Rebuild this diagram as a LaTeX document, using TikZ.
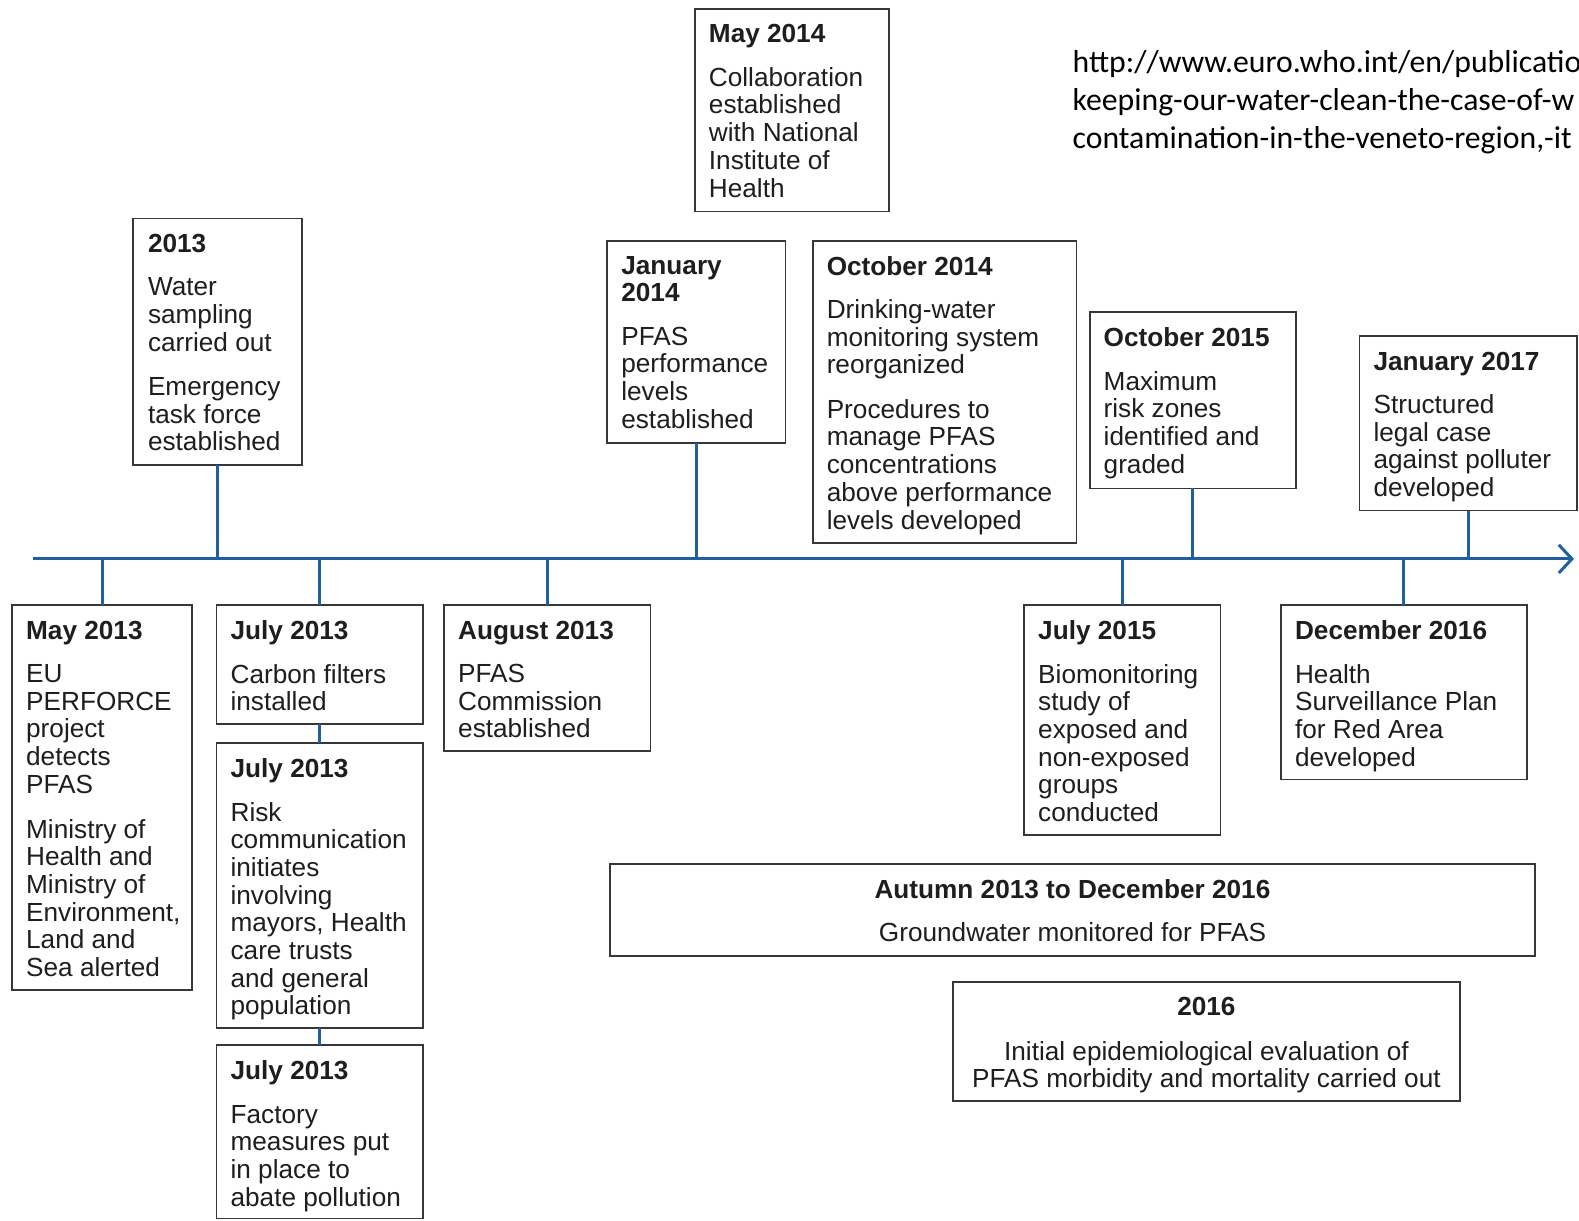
\documentclass[tikz,border=0pt]{standalone}
\usepackage{fontspec}
\setmainfont{Liberation Sans}
\newfontfamily\urlfont{Carlito}
\usetikzlibrary{arrows.meta,fit}
\definecolor{tlblue}{RGB}{31,96,158}
\definecolor{boxline}{RGB}{55,55,55}
\definecolor{txtc}{RGB}{30,30,30}
\begin{document}
\begin{tikzpicture}[x=1pt,y=-1pt,
  evbox/.style={draw=boxline, line width=1.8pt, inner sep=0pt, outer sep=0pt, fill=white},
  evtxt/.style={font=\fontsize{26}{27.5}\selectfont, text=txtc, align=left, inner sep=0pt, outer sep=0pt, anchor=north west},
  evtxtc/.style={evtxt, align=center, anchor=north},
  tline/.style={draw=tlblue, line width=3pt},
  conn/.style={draw=tlblue, line width=2.8pt},
  urltxt/.style={font=\urlfont\fontsize{31.5}{37.5}\selectfont, text=black, inner sep=0pt, anchor=base west}]

\useasboundingbox (0,0) rectangle (1568,1212);
\fill[white] (0,0) rectangle (1568,1212);
\clip (0,0) rectangle (1568,1212);

% URL
\node[urltxt] (url1) at (1065,72) {http://www.euro.who.int/en/publicatio};
\node[urltxt] (url2) at (1065,109.5) {keeping-our-water-clean-the-case-of-w};
\node[urltxt] (url3) at (1065,147) {contamination-in-the-veneto-region,-it};

% timeline
\coordinate (tlstart) at (33,555);
\coordinate (tlend) at (1563,555);
\draw[tline, -{Straight Barb[length=13pt,width=28pt]}] (tlstart) -- (tlend);

% boxes above
\node[evbox, fit={(690,9) (883,210)}] (may14) {};
\node[evbox, fit={(132,217) (300,462)}] (y2013) {};
\node[evbox, fit={(603,239) (780,440)}] (jan14) {};
\node[evbox, fit={(807,239) (1069,539)}] (oct14) {};
\node[evbox, fit={(1082,310) (1287,485)}] (oct15) {};
\node[evbox, fit={(1350,334) (1566,507)}] (jan17) {};

% boxes below
\node[evbox, fit={(12,601) (191,983)}] (may13) {};
\node[evbox, fit={(215,601) (420,719)}] (jul13a) {};
\node[evbox, fit={(215,738) (420,1021)}] (jul13b) {};
\node[evbox, fit={(215,1038) (420,1210)}] (jul13c) {};
\node[evbox, fit={(441,601) (646,746)}] (aug13) {};
\node[evbox, fit={(1017,601) (1212,829)}] (jul15) {};
\node[evbox, fit={(1272,601) (1516,774)}] (dec16) {};
\node[evbox, fit={(606,858) (1524,949)}] (aut) {};
\node[evbox, fit={(946,975) (1450,1093)}] (y2016) {};

% connectors
\draw[conn] (y2013.south) -- (y2013.south |- tlstart);
\draw[conn] (jan14.south) -- (jan14.south |- tlstart);
\draw[conn] (oct15.south) -- (oct15.south |- tlstart);
\draw[conn] (jan17.south) -- (jan17.south |- tlstart);
\draw[conn] (may13.north) -- (may13.north |- tlstart);
\draw[conn] (jul13a.north) -- (jul13a.north |- tlstart);
\draw[conn] (aug13.north) -- (aug13.north |- tlstart);
\draw[conn] (jul15.north) -- (jul15.north |- tlstart);
\draw[conn] (dec16.north) -- (dec16.north |- tlstart);
\draw[conn] (jul13a.south) -- (jul13b.north);
\draw[conn] (jul13b.south) -- (jul13c.north);

% texts
\node[evtxt] (may14t) at ([shift={(14,15.5)}]may14.north west)
  {\textbf{May 2014}\\[15.5pt]Collaboration\\established\\with National\\Institute of\\Health};
\node[evtxt] (y2013t) at ([shift={(15,15.5)}]y2013.north west)
  {\textbf{2013}\\[15.5pt]Water\\sampling\\carried out\\[16.5pt]Emergency\\task force\\established};
\node[evtxt] (jan14t) at ([shift={(14,15.5)}]jan14.north west)
  {\textbf{January}\\\textbf{2014}\\[15.5pt]PFAS\\performance\\levels\\established};
\node[evtxt] (oct14t) at ([shift={(14,15.5)}]oct14.north west)
  {\textbf{October 2014}\\[15.5pt]Drinking-water\\monitoring system\\reorganized\\[16.5pt]Procedures to\\manage PFAS\\concentrations\\above performance\\levels developed};
\node[evtxt] (oct15t) at ([shift={(14,15.5)}]oct15.north west)
  {\textbf{October 2015}\\[15.5pt]Maximum\\risk zones\\identified and\\graded};
\node[evtxt] (jan17t) at ([shift={(14,15.5)}]jan17.north west)
  {\textbf{January 2017}\\[15.5pt]Structured\\legal case\\against polluter\\developed};

\node[evtxt] (may13t) at ([shift={(14,15.5)}]may13.north west)
  {\textbf{May 2013}\\[15.5pt]EU\\PERFORCE\\project\\detects\\PFAS\\[17pt]Ministry of\\Health and\\Ministry of\\Environment,\\Land and\\Sea alerted};
\node[evtxt] (jul13at) at ([shift={(14,15.5)}]jul13a.north west)
  {\textbf{July 2013}\\[15.5pt]Carbon filters\\installed};
\node[evtxt] (jul13bt) at ([shift={(14,15.5)}]jul13b.north west)
  {\textbf{July 2013}\\[15.5pt]Risk\\communication\\initiates\\involving\\mayors, Health\\care trusts\\and general\\population};
\node[evtxt] (jul13ct) at ([shift={(14,15.5)}]jul13c.north west)
  {\textbf{July 2013}\\[15.5pt]Factory\\measures put\\in place to\\abate pollution};
\node[evtxt] (aug13t) at ([shift={(14,15.5)}]aug13.north west)
  {\textbf{August 2013}\\[15.5pt]PFAS\\Commission\\established};
\node[evtxt] (jul15t) at ([shift={(14,15.5)}]jul15.north west)
  {\textbf{July 2015}\\[15.5pt]Biomonitoring\\study of\\exposed and\\non-exposed\\groups\\conducted};
\node[evtxt] (dec16t) at ([shift={(14,15.5)}]dec16.north west)
  {\textbf{December 2016}\\[15.5pt]Health\\Surveillance Plan\\for Red Area\\developed};
\node[evtxtc] (autt) at ([shift={(0,15.5)}]aut.north)
  {\textbf{Autumn 2013 to December 2016}\\[15.5pt]Groundwater monitored for PFAS};
\node[evtxtc] (y2016t) at ([shift={(0,15.5)}]y2016.north)
  {\textbf{2016}\\[16.5pt]Initial epidemiological evaluation of\\PFAS morbidity and mortality carried out};
\end{tikzpicture}
\end{document}
